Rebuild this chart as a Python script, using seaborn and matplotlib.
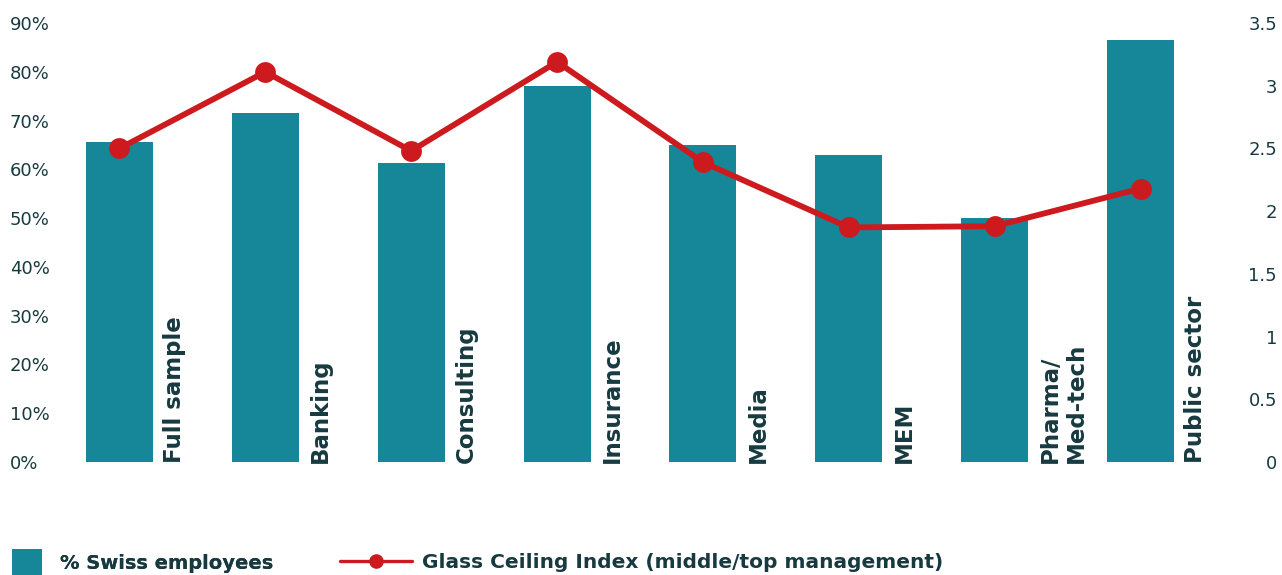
import numpy as np
import pandas as pd
import matplotlib
matplotlib.use("Agg")
import matplotlib.pyplot as plt
import seaborn as sns
from matplotlib.patches import Patch
from matplotlib.lines import Line2D

# Sector data
sectors = ["Full sample", "Banking", "Consulting", "Insurance", "Media",
           "MEM", "Pharma/\nMed-tech", "Public sector"]
swiss_share = [65.6, 71.6, 61.3, 77.1, 65.0, 62.9, 50.0, 86.5]        # % Swiss employees
glass_ceiling = [2.50, 3.11, 2.48, 3.19, 2.39, 1.87, 1.88, 2.18]      # middle/top management

left_ticks = [0, 10, 20, 30, 40, 50, 60, 70, 80, 90]
left_labels = [f"{v}%" for v in left_ticks]
right_ticks = [0, 0.5, 1, 1.5, 2, 2.5, 3, 3.5]
right_labels = ["0", "0.5", "1", "1.5", "2", "2.5", "3", "3.5"]

TEAL = "#168799"
RED = "#CD1A1E"
INK = "#173a40"

sns.set_theme(style="white")
plt.rcParams["font.family"] = ["DejaVu Sans"]

W, H = 1282, 575
fig = plt.figure(figsize=(W / 100, H / 100), dpi=100)
fig.patch.set_facecolor("white")

ax_l, ax_r, ax_b, ax_t = 46.5, 1213.5, 462, 23
ax = fig.add_axes([ax_l / W, (H - ax_b) / H, (ax_r - ax_l) / W, (ax_b - ax_t) / H])

df = pd.DataFrame({"sector": sectors, "share": swiss_share, "gci": glass_ceiling})
sns.barplot(data=df, x="sector", y="share", color=TEAL, saturation=1,
            width=0.46, linewidth=0, edgecolor=TEAL, ax=ax)

ax.set_xlim(-0.5, len(sectors) - 0.5)
ax.set_ylim(0, 90)
ax.set_yticks(left_ticks)
ax.set_yticklabels(left_labels)
ax.set_xlabel("")
ax.set_ylabel("")
ax.tick_params(axis="x", length=0, labelbottom=False)
ax.tick_params(axis="y", length=0, pad=26.3, labelsize=13, labelcolor=INK)
for t in ax.get_yticklabels():
    t.set_ha("left")
for s in ax.spines.values():
    s.set_visible(False)

# Rotated sector names beside each bar
for i, name in enumerate(sectors):
    ax.text(i + 0.30, -0.15, name, rotation=90, ha="left", va="bottom",
            multialignment="left", fontsize=16.5, fontweight="bold", color=INK)

# Glass Ceiling Index on the secondary axis
ax2 = ax.twinx()
positions = np.arange(len(sectors))
sns.lineplot(x=positions, y=glass_ceiling, ax=ax2, color=RED, linewidth=4.2,
             marker="o", markersize=15, markeredgewidth=0,
             markeredgecolor=RED, markerfacecolor=RED)
ax2.set_ylim(0, 3.5)
ax2.set_yticks(right_ticks)
ax2.set_yticklabels(right_labels)
ax2.set_ylabel("")
ax2.tick_params(axis="y", length=0, pad=45.7, labelsize=13, labelcolor=INK)
for t in ax2.get_yticklabels():
    t.set_ha("right")
for s in ax2.spines.values():
    s.set_visible(False)
ax2.grid(False)
ax.grid(False)

# Legend
leg_fs = 14
fs_px = leg_fs * 100 / 72
ly = (H - 563) / H
leg1 = fig.legend(handles=[Patch(facecolor=TEAL, edgecolor="none", label="% Swiss employees")],
                  loc="center left", bbox_to_anchor=(12 / W, ly), frameon=False,
                  borderpad=0, borderaxespad=0, handlelength=30 / fs_px,
                  handleheight=36 / fs_px, handletextpad=18 / fs_px,
                  prop={"size": leg_fs, "weight": "bold"})
for t in leg1.get_texts():
    t.set_color(INK)
leg2_fs = 14.5
fs2_px = leg2_fs * 100 / 72
leg2 = fig.legend(handles=[Line2D([], [], color=RED, linewidth=2.4, marker="o",
                                  markersize=10.5, markeredgewidth=0,
                                  label="Glass Ceiling Index (middle/top management)")],
                  loc="center left", bbox_to_anchor=(340 / W, ly), frameon=False,
                  borderpad=0, borderaxespad=0, handlelength=72 / fs2_px,
                  handletextpad=10 / fs2_px, prop={"size": leg2_fs, "weight": "bold"})
for t in leg2.get_texts():
    t.set_color(INK)
fig.add_artist(leg1)

fig.savefig("out.png", dpi=100, facecolor="white")
